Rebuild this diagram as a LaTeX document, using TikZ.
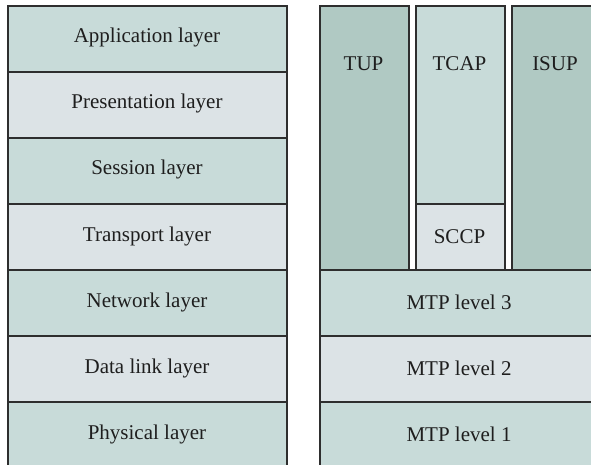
\documentclass[tikz,border=0pt]{standalone}
\usepackage{fontspec}
\setmainfont{Liberation Serif}
\definecolor{tealA}{HTML}{C8DBD9}
\definecolor{tealB}{HTML}{DCE3E6}
\definecolor{tealC}{HTML}{B0C9C3}
\definecolor{edge}{HTML}{2E2E2E}
\definecolor{ink}{HTML}{1E1E1E}
\begin{document}
\begin{tikzpicture}[x=1pt,y=-1pt,
  layerbox/.style={draw=edge,line width=1.6pt,inner sep=0pt,anchor=north west},
  lbl/.style={text=ink,font=\fontsize{21}{25}\selectfont,inner sep=0pt}]
\useasboundingbox (0,0) rectangle (591,465);
\clip (0,0) rectangle (591,465);
% OSI stack
\node[layerbox,fill=tealA,minimum width=279pt,minimum height=66pt] (app) at (7,5) {};
\node[layerbox,fill=tealB,minimum width=279pt,minimum height=66pt] (pres) at (7,71) {};
\node[layerbox,fill=tealA,minimum width=279pt,minimum height=66pt] (sess) at (7,137) {};
\node[layerbox,fill=tealB,minimum width=279pt,minimum height=66pt] (trans) at (7,203) {};
\node[layerbox,fill=tealA,minimum width=279pt,minimum height=66pt] (net) at (7,269) {};
\node[layerbox,fill=tealB,minimum width=279pt,minimum height=66pt] (dl) at (7,335) {};
\node[layerbox,fill=tealA,minimum width=279pt,minimum height=70pt] (phys) at (7,401) {};
\node[lbl] (tapp) at (147,37) {Application layer};
\node[lbl] (tpres) at (147,103) {Presentation layer};
\node[lbl] (tsess) at (147,169) {Session layer};
\node[lbl] (ttrans) at (147,236) {Transport layer};
\node[lbl] (tnet) at (147,302) {Network layer};
\node[lbl] (tdl) at (147,368) {Data link layer};
\node[lbl] (tphys) at (147,434) {Physical layer};
% SS7 stack
\node[layerbox,fill=tealC,minimum width=89pt,minimum height=264pt] (tup) at (319,5) {};
\node[layerbox,fill=tealA,minimum width=89pt,minimum height=198pt] (tcap) at (415,5) {};
\node[layerbox,fill=tealB,minimum width=89pt,minimum height=66pt] (sccp) at (415,203) {};
\node[layerbox,fill=tealC,minimum width=90pt,minimum height=264pt] (isup) at (511,5) {};
\node[layerbox,fill=tealA,minimum width=280pt,minimum height=66pt] (mtp3) at (319,269) {};
\node[layerbox,fill=tealB,minimum width=280pt,minimum height=66pt] (mtp2) at (319,335) {};
\node[layerbox,fill=tealA,minimum width=280pt,minimum height=70pt] (mtp1) at (319,401) {};
\node[lbl] (ttup) at (363.5,64) {TUP};
\node[lbl] (ttcap) at (459.5,64) {TCAP};
\node[lbl] (tisup) at (555,64) {ISUP};
\node[lbl] (tsccp) at (459.5,237) {SCCP};
\node[lbl] (tmtp3) at (459,302) {MTP level 3};
\node[lbl] (tmtp2) at (459,368) {MTP level 2};
\node[lbl] (tmtp1) at (459,434) {MTP level 1};
\end{tikzpicture}
\end{document}
